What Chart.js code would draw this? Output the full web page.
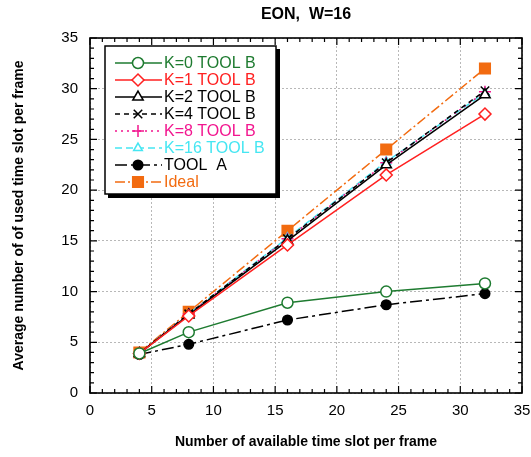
<!DOCTYPE html>
<html>
<head>
<meta charset="utf-8">
<script src="https://cdn.jsdelivr.net/npm/chart.js@4.4.1/dist/chart.umd.min.js"></script>
<style>
  html, body { margin: 0; padding: 0; background: #fff; }
  #wrap { width: 531px; height: 457px; }
</style>
</head>
<body>
<div id="wrap"><canvas id="eonChart" width="531" height="457"></canvas></div>
<script>
// ── DATA ──
const slots = [4, 8, 16, 24, 32];
const k0ToolB = [3.9, 6.0, 8.9, 10.0, 10.8];
const k1ToolB = [3.9, 7.6, 14.6, 21.5, 27.5];
const k2ToolB = [3.9, 7.7, 15.0, 22.5, 29.4];
const k4ToolB = [3.9, 7.8, 15.2, 22.7, 29.8];
const k8ToolB = [3.9, 7.8, 15.2, 22.7, 29.7];
const k16ToolB = [3.9, 7.8, 15.3, 22.8, 29.6];
const toolA = [3.8, 4.8, 7.2, 8.7, 9.8];
const ideal = [4, 8, 16, 24, 32];
const xTicks = [0, 5, 10, 15, 20, 25, 30, 35];
const yTicks = [0, 5, 10, 15, 20, 25, 30, 35];

const FONT = "'Liberation Sans', Arial, Helvetica, sans-serif";
const pts = arr => slots.map((x, i) => ({ x, y: arr[i] }));

function series(label, data, color, style, radius, dash, fill) {
  return {
    label,
    data: pts(data),
    borderColor: color,
    backgroundColor: color,
    borderWidth: 1.5,
    borderDash: dash,
    pointStyle: style,
    pointRadius: radius,
    pointHoverRadius: radius,
    pointBorderColor: color,
    pointBackgroundColor: fill ? color : '#fff',
    pointBorderWidth: 1.5,
    tension: 0,
    fill: false,
  };
}

// ── FRAME, TICKS, TITLE, LEGEND ──
const decor = {
  id: 'decor',
  afterDraw(chart) {
    const { ctx, chartArea: a, scales: { x, y } } = chart;
    ctx.save();

    // inward ticks on all four sides
    ctx.strokeStyle = '#000';
    ctx.lineWidth = 1.2;
    ctx.beginPath();
    for (let v = 0; v <= 35; v++) {
      const len = v % 5 === 0 ? 7 : 4;
      const px = x.getPixelForValue(v);
      ctx.moveTo(px, a.bottom); ctx.lineTo(px, a.bottom - len);
      ctx.moveTo(px, a.top); ctx.lineTo(px, a.top + len);
      const py = y.getPixelForValue(v);
      ctx.moveTo(a.left, py); ctx.lineTo(a.left + len, py);
      ctx.moveTo(a.right, py); ctx.lineTo(a.right - len, py);
    }
    ctx.stroke();

    // frame
    ctx.lineWidth = 1.6;
    ctx.strokeRect(a.left, a.top, a.right - a.left, a.bottom - a.top);

    // title
    ctx.fillStyle = '#000';
    ctx.font = 'bold 16px ' + FONT;
    ctx.textAlign = 'center';
    ctx.textBaseline = 'middle';
    ctx.fillText('EON,  W=16', (a.left + a.right) / 2, 15);

    // legend box with drop shadow
    const bx = 105, by = 46, bw = 171, bh = 148;
    ctx.fillStyle = '#000';
    ctx.fillRect(bx + 3, by + 3, bw + 1, bh + 1);
    ctx.fillStyle = '#fff';
    ctx.fillRect(bx, by, bw, bh);
    ctx.lineWidth = 1.5;
    ctx.strokeRect(bx, by, bw, bh);

    const labels = ['K=0 TOOL B', 'K=1 TOOL B', 'K=2 TOOL B', 'K=4 TOOL B',
                    'K=8 TOOL B', 'K=16 TOOL B', 'TOOL  A', 'Ideal'];
    ctx.font = '16px ' + FONT;
    ctx.textAlign = 'left';
    chart.data.datasets.forEach((ds, i) => {
      const cy = 63 + i * 17;
      ctx.strokeStyle = ds.borderColor;
      ctx.lineWidth = ds.borderWidth;
      ctx.setLineDash(ds.borderDash || []);
      ctx.beginPath();
      ctx.moveTo(115, cy);
      ctx.lineTo(162, cy);
      ctx.stroke();
      ctx.setLineDash([]);
      ctx.fillStyle = ds.pointBackgroundColor;
      ctx.strokeStyle = ds.pointBorderColor;
      ctx.lineWidth = ds.pointBorderWidth;
      Chart.helpers.drawPoint(ctx, { pointStyle: ds.pointStyle, radius: ds.pointRadius, rotation: 0, borderWidth: ds.pointBorderWidth }, 138, cy);
      ctx.fillStyle = ds.borderColor;
      ctx.fillText(labels[i], 164, cy + 1);
    });

    ctx.restore();
  },
};

window.addEventListener('DOMContentLoaded', () => {
  const canvas = document.getElementById('eonChart');
  new Chart(canvas.getContext('2d'), {
    type: 'line',
    data: {
      datasets: [
        series('K=0 TOOL B', k0ToolB, '#1e7b30', 'circle', 5.5, [], false),
        series('K=1 TOOL B', k1ToolB, '#ff2020', 'rectRot', 6, [], false),
        series('K=2 TOOL B', k2ToolB, '#000000', 'triangle', 6, [], false),
        series('K=4 TOOL B', k4ToolB, '#000000', 'crossRot', 6, [5, 4], false),
        series('K=8 TOOL B', k8ToolB, '#f2168f', 'cross', 6, [2, 4], false),
        series('K=16 TOOL B', k16ToolB, '#45e6f2', 'triangle', 5, [7, 4], false),
        series('TOOL A', toolA, '#000000', 'circle', 4.8, [12, 4, 3, 4], true),
        series('Ideal', ideal, '#f26b10', 'rect', 7.5, [10, 3, 2, 3], true),
      ],
    },
    options: {
      responsive: false,
      animation: false,
      layout: { padding: { top: 38, right: 7, left: 0, bottom: 0 } },
      plugins: {
        legend: { display: false },
        title: { display: false },
        tooltip: { enabled: false },
      },
      scales: {
        x: {
          type: 'linear',
          min: 0,
          max: 35,
          afterFit: s => { s.height = 64; s.paddingLeft = 0; s.paddingRight = 0; },
          afterBuildTicks: s => { s.ticks = xTicks.map(v => ({ value: v })); },
          ticks: { color: '#000', font: { family: FONT, size: 15 }, padding: 9, maxRotation: 0 },
          grid: { color: '#b8b8b8', lineWidth: 1, drawTicks: false },
          border: { display: false, dash: [2, 2] },
          title: {
            display: true,
            text: 'Number of available time slot per frame',
            color: '#000',
            font: { family: FONT, size: 14, weight: 'bold' },
            padding: { top: 0, bottom: 6 },
          },
        },
        y: {
          type: 'linear',
          min: 0,
          max: 35,
          afterFit: s => { s.width = 90; s.paddingTop = 0; s.paddingBottom = 0; },
          afterBuildTicks: s => { s.ticks = yTicks.map(v => ({ value: v })); },
          ticks: { color: '#000', font: { family: FONT, size: 15 }, padding: 12 },
          grid: { color: '#b8b8b8', lineWidth: 1, drawTicks: false },
          border: { display: false, dash: [2, 2] },
          title: {
            display: true,
            text: 'Average number of of used time slot per frame',
            color: '#000',
            font: { family: FONT, size: 14, weight: 'bold' },
            padding: { top: 11, bottom: 0 },
          },
        },
      },
    },
    plugins: [decor],
  });
});
</script>
</body>
</html>
